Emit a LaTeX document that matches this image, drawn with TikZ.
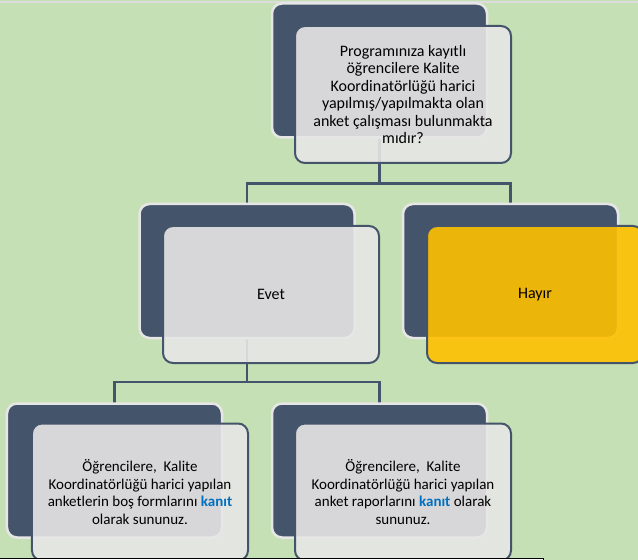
\documentclass[tikz,border=0pt]{standalone}
\usepackage{fontspec}
\setmainfont{Carlito}
\usetikzlibrary{backgrounds,calc}
\definecolor{bggreen}{HTML}{C5E0B4}
\definecolor{darkbox}{HTML}{44546A}
\definecolor{lightbox}{HTML}{E7E6E6}
\definecolor{goldbox}{HTML}{FFC000}
\definecolor{kanitblue}{HTML}{0070C0}
\tikzset{
  backbox/.style={rectangle, rounded corners=10bp, fill=darkbox, draw=lightbox, line width=2.5bp,
    minimum width=215bp, minimum height=134bp, inner sep=0pt, outer sep=0pt},
  frontbox/.style={rectangle, rounded corners=10bp, fill=lightbox, fill opacity=0.9, text opacity=1,
    draw=darkbox, line width=2bp, minimum width=216bp, minimum height=137bp, inner sep=0pt,
    align=center, font=\fontsize{16bp}{17.5bp}\selectfont, text=black},
  smalltext/.style={font=\fontsize{15bp}{17.5bp}\selectfont},
  goldfront/.style={frontbox, fill=goldbox},
  conn/.style={draw=darkbox, line width=2.5bp}
}
\begin{document}
\begin{tikzpicture}[x=1bp,y=-1bp]
\useasboundingbox (0,0) rectangle (638,560);
\clip (0,0) rectangle (638,560);
\begin{scope}[on background layer]
\fill[bggreen] (0,0) rectangle (638,560);
\draw[lightbox!90!gray, line width=2.3bp] (0,2.3) -- (638,2.3);
\end{scope}
% top node
\node[backbox] (qb) at (379.5,70.5) {};
\node[frontbox] (q) at (403,94.5) {Programınıza kayıtlı\\öğrencilere Kalite\\Koordinatörlüğü harici\\yapılmış/yapılmakta olan\\anket çalışması bulunmakta\\mıdır?};
% middle row
\node[backbox] (eb) at (247,271) {};
\node[frontbox] (e) at (271,294.5) {Evet};
\node[backbox] (hb) at (510.5,271) {};
\node[goldfront] (h) at (535,294.5) {Hayır};
% bottom row
\node[backbox] (lb) at (114.5,470.5) {};
\node[frontbox, smalltext] (l) at (140,492) {Öğrencilere,\ \ Kalite\\Koordinatörlüğü harici yapılan\\anketlerin boş formlarını \textcolor{kanitblue}{\textbf{kanıt}}\\olarak sununuz.};
\node[backbox] (rb) at (379.5,470.5) {};
\node[frontbox, smalltext] (r) at (403,492) {Öğrencilere,\ \ Kalite\\Koordinatörlüğü harici yapılan\\anket raporlarını \textcolor{kanitblue}{\textbf{kanıt}} olarak\\sununuz.};
% connectors behind the boxes
\coordinate (j1) at ($(qb.south)+(0,46)$);
\coordinate (j2) at ($(eb.south)+(0,44)$);
\begin{scope}[on background layer]
\draw[conn] (qb.south) -- (j1) -| (eb.north);
\draw[conn] (j1) -| (hb.north);
\draw[conn] (eb.south) -- (j2) -| (lb.north);
\draw[conn] (j2) -| (rb.north);
\end{scope}
% bottom white strip
\draw[fill=white, draw=black, line width=1bp] (-2,558.5) rectangle (543.5,575);
\end{tikzpicture}
\end{document}
